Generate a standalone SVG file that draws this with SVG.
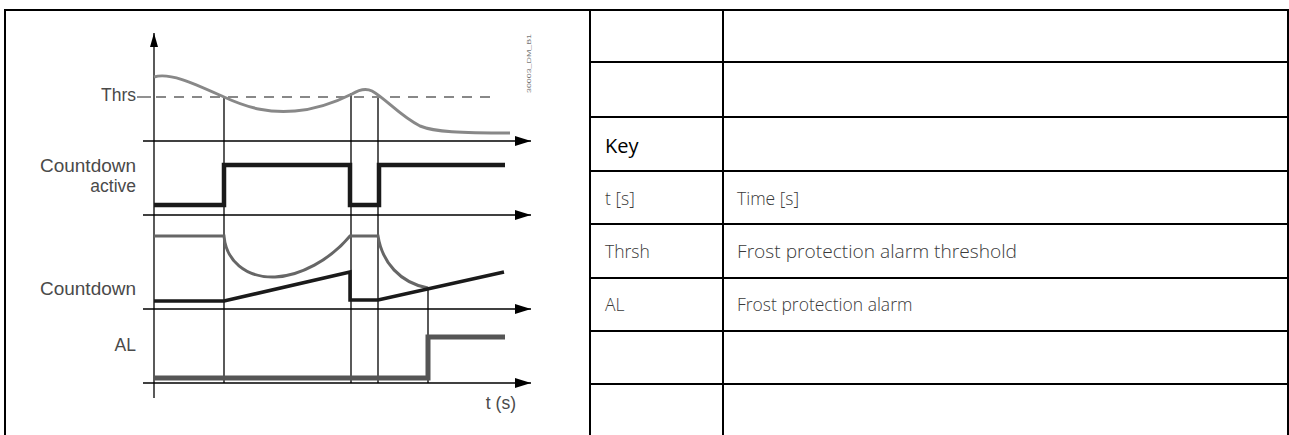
<svg xmlns="http://www.w3.org/2000/svg" width="1289" height="435" viewBox="0 0 1289 435">
<style>
.border{stroke:#000;stroke-width:2;fill:none}
.axis{stroke:#000;stroke-width:1.3;fill:none}
.vline{stroke:#000;stroke-width:1.3;fill:none}
.lbl{font-family:"Liberation Sans",Arial,sans-serif;font-size:17.5px;fill:#4a4a4a;text-anchor:end}
.cell{font-family:"Open Sans","Noto Sans",sans-serif;font-size:17.5px;fill:#3a3a3a;font-weight:300}
.key{font-family:"Open Sans","Noto Sans",sans-serif;font-size:20px;fill:#000}
</style>
<defs>
<marker id="ah" markerUnits="userSpaceOnUse" markerWidth="16" markerHeight="10" refX="16" refY="5" orient="auto">
<path d="M0,0 L16,5 L0,10 z" fill="#000"/>
</marker>
<marker id="av" markerUnits="userSpaceOnUse" markerWidth="14" markerHeight="8" refX="14" refY="4" orient="auto">
<path d="M0,0 L14,4 L0,8 z" fill="#000"/>
</marker>
</defs>
<rect width="1289" height="435" fill="#fff"/>
<g id="table">
<line class="border" x1="5" y1="10" x2="1288" y2="10"/>
<line class="border" x1="5" y1="9" x2="5" y2="435"/>
<line class="border" x1="1288" y1="9" x2="1288" y2="435"/>
<line class="border" x1="590" y1="10" x2="590" y2="435"/>
<line class="border" x1="723" y1="10" x2="723" y2="435"/>
<line class="border" x1="590" y1="62" x2="1288" y2="62"/>
<line class="border" x1="590" y1="117" x2="1288" y2="117"/>
<line class="border" x1="590" y1="171" x2="1288" y2="171"/>
<line class="border" x1="590" y1="224" x2="1288" y2="224"/>
<line class="border" x1="590" y1="278" x2="1288" y2="278"/>
<line class="border" x1="590" y1="331" x2="1288" y2="331"/>
<line class="border" x1="590" y1="384" x2="1288" y2="384"/>
<text class="key" x="605" y="153">Key</text>
<text class="cell" x="605" y="205">t [s]</text>
<text class="cell" x="737" y="205">Time [s]</text>
<text class="cell" x="605" y="258">Thrsh</text>
<text class="cell" x="737" y="258" textLength="280" lengthAdjust="spacingAndGlyphs">Frost protection alarm threshold</text>
<text class="cell" x="605" y="311">AL</text>
<text class="cell" x="737" y="311">Frost protection alarm</text>
</g>
<g id="connectors">
<line class="axis" x1="154" y1="398" x2="154" y2="33" marker-end="url(#av)"/>
<line class="axis" x1="143" y1="141" x2="531" y2="141" marker-end="url(#ah)"/>
<line class="axis" x1="143" y1="215" x2="531" y2="215" marker-end="url(#ah)"/>
<line class="axis" x1="143" y1="309" x2="531" y2="309" marker-end="url(#ah)"/>
<line class="axis" x1="143" y1="383" x2="531" y2="383" marker-end="url(#ah)"/>
<line class="vline" x1="224" y1="97" x2="224" y2="383"/>
<line class="vline" x1="351" y1="93" x2="351" y2="383"/>
<line class="vline" x1="378" y1="95" x2="378" y2="383"/>
<line class="vline" x1="428" y1="288" x2="428" y2="383"/>
</g>
<g id="threshold">
<line x1="137" y1="97" x2="151" y2="97" stroke="#555" stroke-width="1.3"/>
<line x1="156" y1="97" x2="490" y2="97" stroke="#888" stroke-width="1.8" stroke-dasharray="10 8"/>
<path d="M154,77 C170,72 195,84 224,97 C250,109 270,113 295,111 C320,109 340,100 352,94 C360,89 366,88 372,91 C385,98 400,116 420,126 C435,132 460,133 510,133" fill="none" stroke="#888" stroke-width="3"/>
<text class="lbl" x="136" y="101">Thrs</text>
</g>
<g id="countdown-active">
<path d="M154,205 L224,205 L224,165 L350,165 L350,205 L379,205 L379,165 L505,165" fill="none" stroke="#1a1a1a" stroke-width="4.5"/>
<text class="lbl" x="136" y="172" textLength="96" lengthAdjust="spacingAndGlyphs">Countdown</text>
<text class="lbl" x="136" y="192">active</text>
</g>
<g id="countdown">
<path d="M154,236 L224,236 C226,260 245,278 275,277 C300,276 330,260 350,236 L378,236 C382,262 400,283 428,288" fill="none" stroke="#666" stroke-width="3"/>
<path d="M154,301 L224,301 L350,272 L350,300 L378,300 L504,272" fill="none" stroke="#1a1a1a" stroke-width="3.5"/>
<text class="lbl" x="136" y="295" textLength="96" lengthAdjust="spacingAndGlyphs">Countdown</text>
</g>
<g id="alarm">
<path d="M154,378 L428,378 L428,337 L505,337" fill="none" stroke="#555" stroke-width="5"/>
<text class="lbl" x="136" y="351">AL</text>
</g>
<g id="time-label">
<text class="lbl" x="516" y="409">t (s)</text>
</g>
<g id="code">
<text x="531" y="93" transform="rotate(-90 531 93)" font-family="'Liberation Sans',sans-serif" font-size="6" fill="#777" textLength="59" lengthAdjust="spacingAndGlyphs">30003_DM_B1</text>
</g>
</svg>
